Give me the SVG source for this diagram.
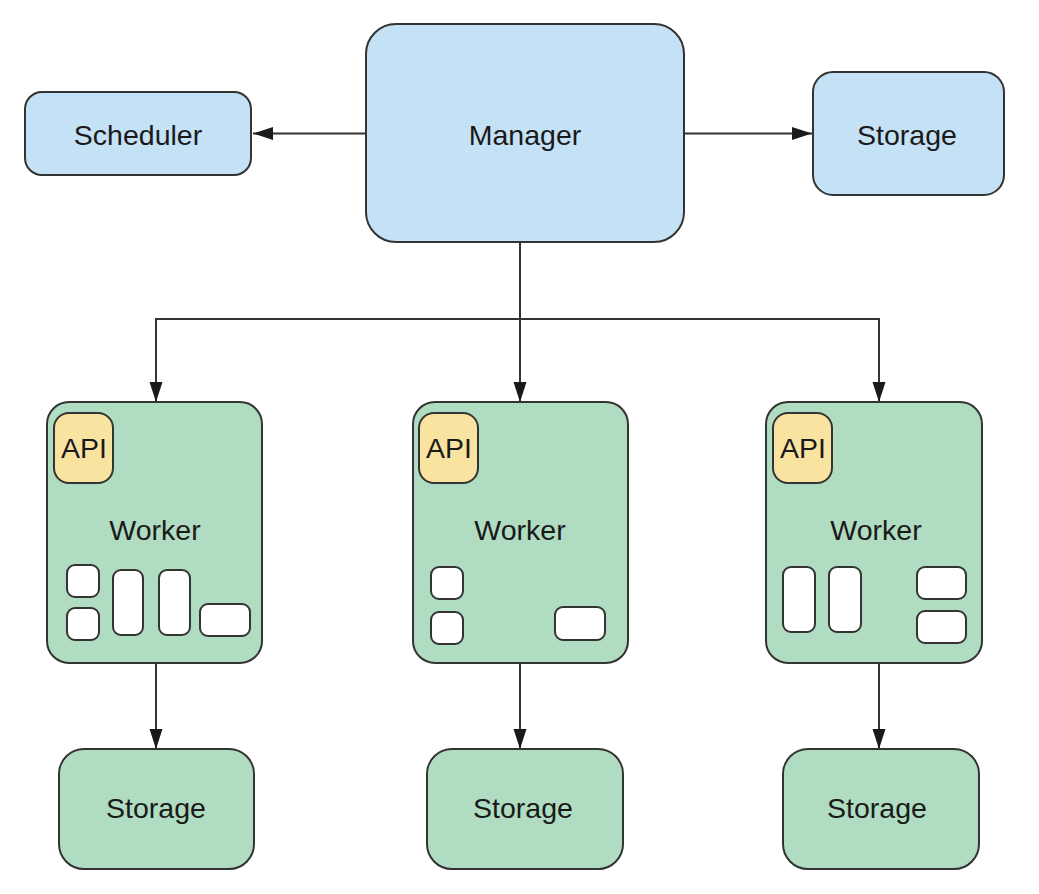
<svg xmlns="http://www.w3.org/2000/svg" width="1039" height="894" viewBox="0 0 1039 894">
<style>
.blue{fill:#c5e1f5;stroke:#333;stroke-width:2}
.green{fill:#b0dcc1;stroke:#333;stroke-width:2}
.api{fill:#f8e3a1;stroke:#333;stroke-width:2}
.slot{fill:#fff;stroke:#333;stroke-width:2}
.lbl{font-family:"Liberation Sans",Arial,sans-serif;font-size:28.5px;fill:#1a1a1a;text-anchor:middle}
.conn{fill:none;stroke:#333;stroke-width:2}
</style>
<defs>
<marker id="ah" markerWidth="20" markerHeight="14" refX="20" refY="7" orient="auto" markerUnits="userSpaceOnUse">
<path d="M0,0.5 L20,7 L0,13.5 Z" fill="#1a1a1a"/>
</marker>
</defs>
<rect width="1039" height="894" fill="#fff"/>
<g id="connectors">
<path class="conn" d="M366,133.5 H253" marker-end="url(#ah)"/>
<path class="conn" d="M684,133.5 H812" marker-end="url(#ah)"/>
<path class="conn" d="M520,242 V319 H156 V402" marker-end="url(#ah)"/>
<path class="conn" d="M520,319 V402" marker-end="url(#ah)"/>
<path class="conn" d="M520,319 H879 V402" marker-end="url(#ah)"/>
<path class="conn" d="M156,663 V749" marker-end="url(#ah)"/>
<path class="conn" d="M520,663 V749" marker-end="url(#ah)"/>
<path class="conn" d="M879,663 V749" marker-end="url(#ah)"/>
</g>
<g id="scheduler">
<rect class="blue" x="25" y="92" width="226" height="83" rx="17"/>
<text class="lbl" x="138" y="145">Scheduler</text>
</g>
<g id="manager">
<rect class="blue" x="366" y="24" width="318" height="218" rx="30"/>
<text class="lbl" x="525" y="145">Manager</text>
</g>
<g id="storage-top">
<rect class="blue" x="813" y="72" width="191" height="123" rx="20"/>
<text class="lbl" x="907" y="145">Storage</text>
</g>
<g id="worker1">
<rect class="green" x="47" y="402" width="215" height="261" rx="22"/>
<rect class="api" x="54" y="413" width="59" height="70" rx="15"/>
<text class="lbl" x="84" y="458">API</text>
<text class="lbl" x="155" y="540">Worker</text>
<rect class="slot" x="67" y="565" width="32" height="32" rx="8"/>
<rect class="slot" x="67" y="608" width="32" height="32" rx="8"/>
<rect class="slot" x="113" y="570" width="30" height="65" rx="8"/>
<rect class="slot" x="159" y="570" width="31" height="65" rx="8"/>
<rect class="slot" x="200" y="604" width="50" height="32" rx="8"/>
</g>
<g id="worker2">
<rect class="green" x="413" y="402" width="215" height="261" rx="22"/>
<rect class="api" x="419" y="413" width="59" height="70" rx="15"/>
<text class="lbl" x="449" y="458">API</text>
<text class="lbl" x="520" y="540">Worker</text>
<rect class="slot" x="431" y="567" width="32" height="32" rx="8"/>
<rect class="slot" x="431" y="612" width="32" height="32" rx="8"/>
<rect class="slot" x="555" y="607" width="50" height="33" rx="8"/>
</g>
<g id="worker3">
<rect class="green" x="766" y="402" width="216" height="261" rx="22"/>
<rect class="api" x="773" y="413" width="59" height="70" rx="15"/>
<text class="lbl" x="803" y="458">API</text>
<text class="lbl" x="876" y="540">Worker</text>
<rect class="slot" x="783" y="567" width="32" height="65" rx="8"/>
<rect class="slot" x="829" y="567" width="32" height="65" rx="8"/>
<rect class="slot" x="917" y="567" width="49" height="32" rx="8"/>
<rect class="slot" x="917" y="611" width="49" height="32" rx="8"/>
</g>
<g id="storage1">
<rect class="green" x="59" y="749" width="195" height="120" rx="25"/>
<text class="lbl" x="156" y="818">Storage</text>
</g>
<g id="storage2">
<rect class="green" x="427" y="749" width="196" height="120" rx="25"/>
<text class="lbl" x="523" y="818">Storage</text>
</g>
<g id="storage3">
<rect class="green" x="783" y="749" width="196" height="120" rx="25"/>
<text class="lbl" x="877" y="818">Storage</text>
</g>
</svg>
